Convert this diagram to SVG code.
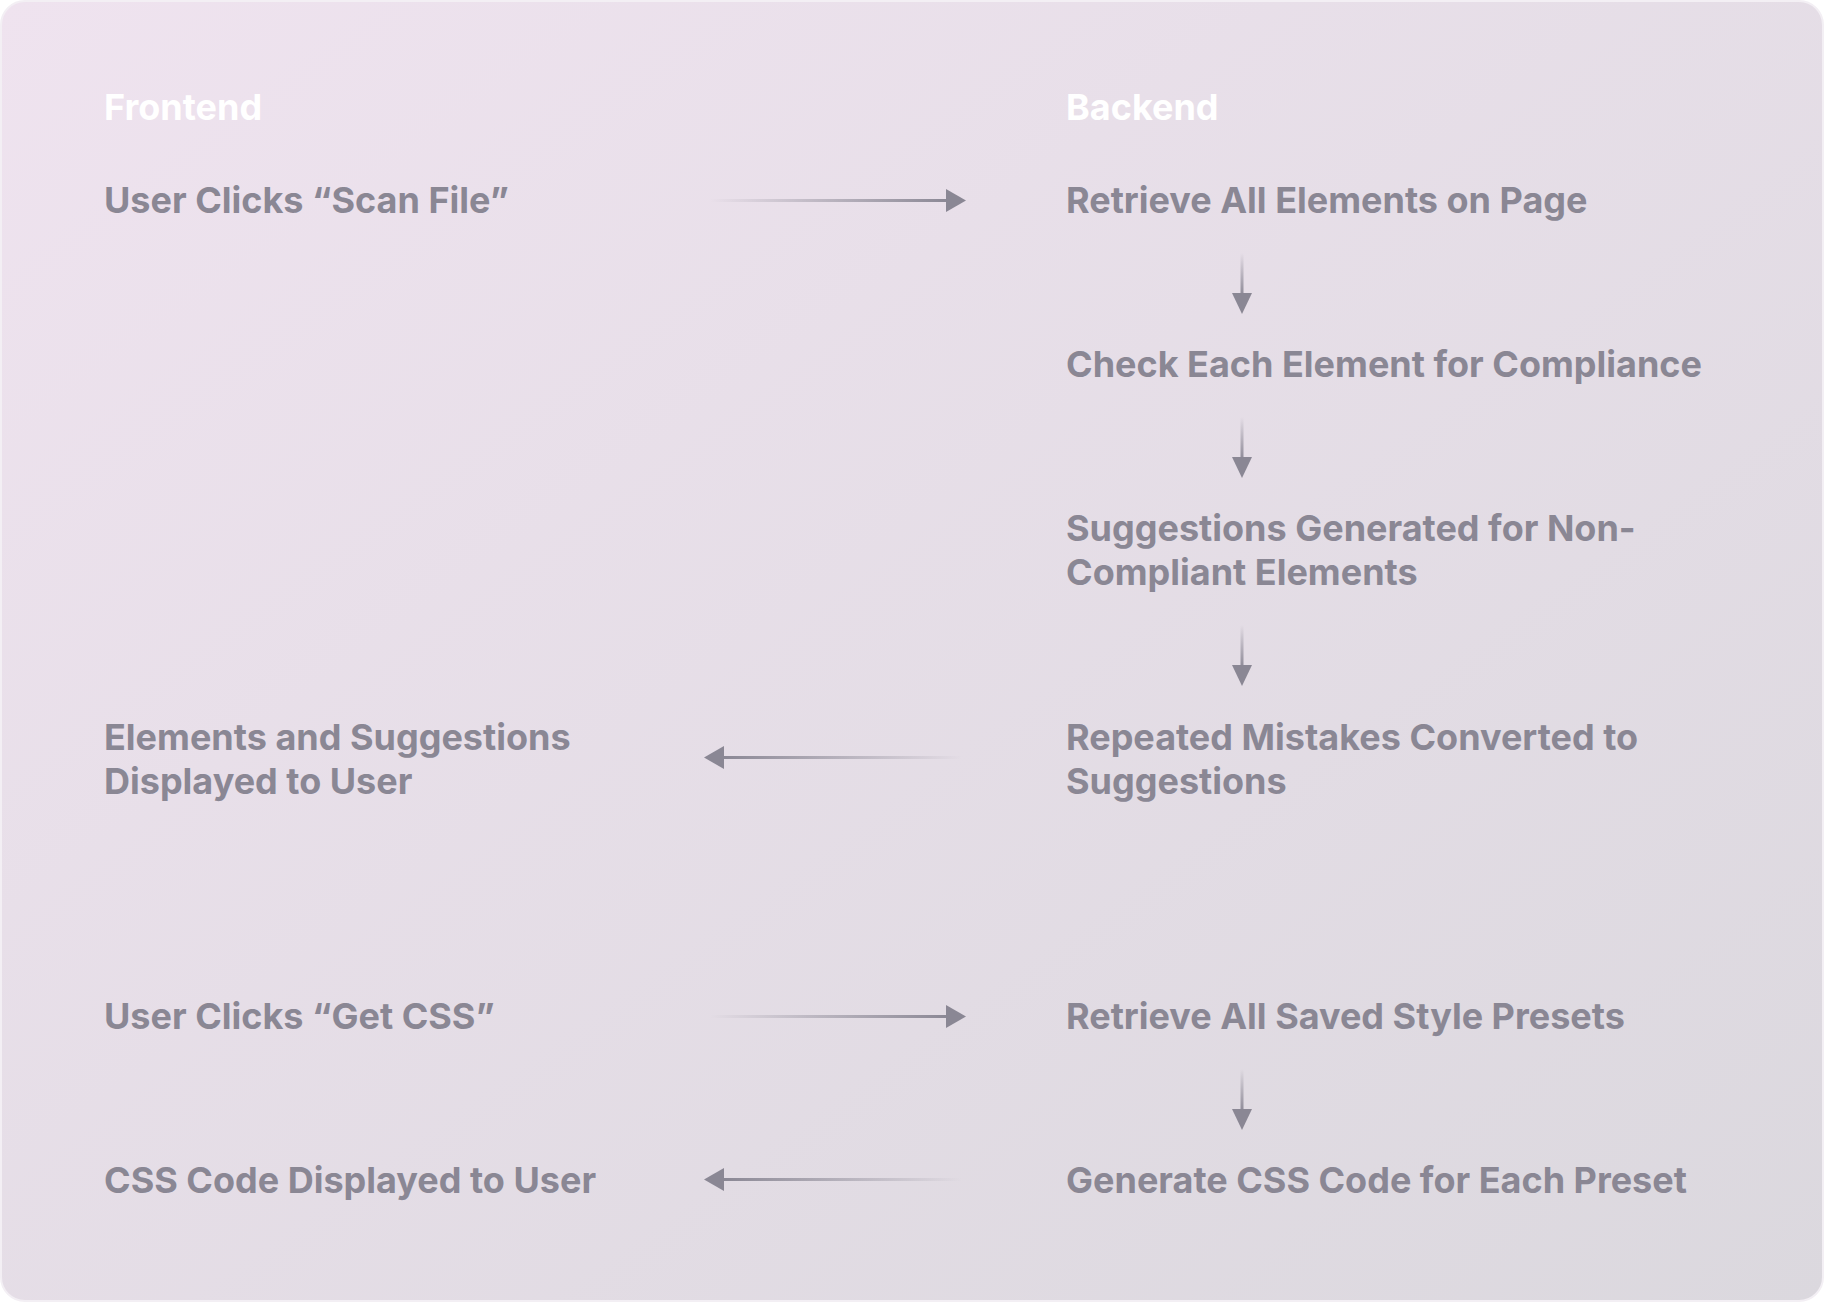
<svg xmlns="http://www.w3.org/2000/svg" width="1824" height="1302" viewBox="0 0 1824 1302">
<style>
.t{font-family:Inter,"Noto Sans","Liberation Sans",sans-serif;font-weight:700;font-size:36px;fill:#8A8794}
.h{font-family:Inter,"Noto Sans","Liberation Sans",sans-serif;font-weight:700;font-size:36px;fill:#FFFFFF}
.head{fill:#8A8794}
</style>
<defs>
<linearGradient id="bg" x1="0" y1="0" x2="1" y2="1">
<stop offset="0" stop-color="#EFE3EF"/>
<stop offset="1" stop-color="#DBD8DE"/>
</linearGradient>
<linearGradient id="fr" x1="0" y1="0" x2="1" y2="0">
<stop offset="0" stop-color="#8A8794" stop-opacity="0"/>
<stop offset="1" stop-color="#8A8794"/>
</linearGradient>
<linearGradient id="fl" x1="1" y1="0" x2="0" y2="0">
<stop offset="0" stop-color="#8A8794" stop-opacity="0"/>
<stop offset="1" stop-color="#8A8794"/>
</linearGradient>
<linearGradient id="fd" x1="0" y1="0" x2="0" y2="1">
<stop offset="0" stop-color="#8A8794" stop-opacity="0"/>
<stop offset="1" stop-color="#8A8794"/>
</linearGradient>
</defs>
<rect x="0" y="0" width="1824" height="1302" fill="#FFFFFF"/>
<rect x="1" y="1" width="1822" height="1300" rx="24" fill="url(#bg)" stroke="#F3EFF4" stroke-width="2"/>

<g id="header-frontend"><text class="h" x="104" y="120">Frontend</text></g>
<g id="header-backend"><text class="h" x="1066" y="120">Backend</text></g>

<g id="n-scan"><text class="t" x="104" y="213">User Clicks “Scan File”</text></g>
<g id="n-retrieve"><text class="t" x="1066" y="213">Retrieve All Elements on Page</text></g>
<g id="n-check"><text class="t" x="1066" y="377">Check Each Element for Compliance</text></g>
<g id="n-suggest"><text class="t" x="1066" y="541">Suggestions Generated for Non-</text><text class="t" x="1066" y="585">Compliant Elements</text></g>
<g id="n-repeated"><text class="t" x="1066" y="750">Repeated Mistakes Converted to</text><text class="t" x="1066" y="794">Suggestions</text></g>
<g id="n-displayed"><text class="t" x="104" y="750">Elements and Suggestions</text><text class="t" x="104" y="794">Displayed to User</text></g>
<g id="n-getcss"><text class="t" x="104" y="1029">User Clicks “Get CSS”</text></g>
<g id="n-presets"><text class="t" x="1066" y="1029">Retrieve All Saved Style Presets</text></g>
<g id="n-cssdisplayed"><text class="t" x="104" y="1193">CSS Code Displayed to User</text></g>
<g id="n-generate"><text class="t" x="1066" y="1193">Generate CSS Code for Each Preset</text></g>

<g id="connectors">
<rect x="710" y="199" width="240" height="3" fill="url(#fr)"/>
<polygon class="head" points="946,189 966,200.5 946,212"/>
<rect x="710" y="1015" width="240" height="3" fill="url(#fr)"/>
<polygon class="head" points="946,1005 966,1016.5 946,1028"/>
<rect x="722" y="756" width="240" height="3" fill="url(#fl)"/>
<polygon class="head" points="724,746 704,757.5 724,769"/>
<rect x="722" y="1178" width="240" height="3" fill="url(#fl)"/>
<polygon class="head" points="724,1168 704,1179.5 724,1191"/>
<rect x="1240.5" y="253" width="3" height="44" fill="url(#fd)"/>
<polygon class="head" points="1232,293 1252,293 1242,314"/>
<rect x="1240.5" y="417" width="3" height="44" fill="url(#fd)"/>
<polygon class="head" points="1232,457 1252,457 1242,478"/>
<rect x="1240.5" y="625" width="3" height="44" fill="url(#fd)"/>
<polygon class="head" points="1232,665 1252,665 1242,686"/>
<rect x="1240.5" y="1069" width="3" height="44" fill="url(#fd)"/>
<polygon class="head" points="1232,1109 1252,1109 1242,1130"/>
</g>
</svg>
